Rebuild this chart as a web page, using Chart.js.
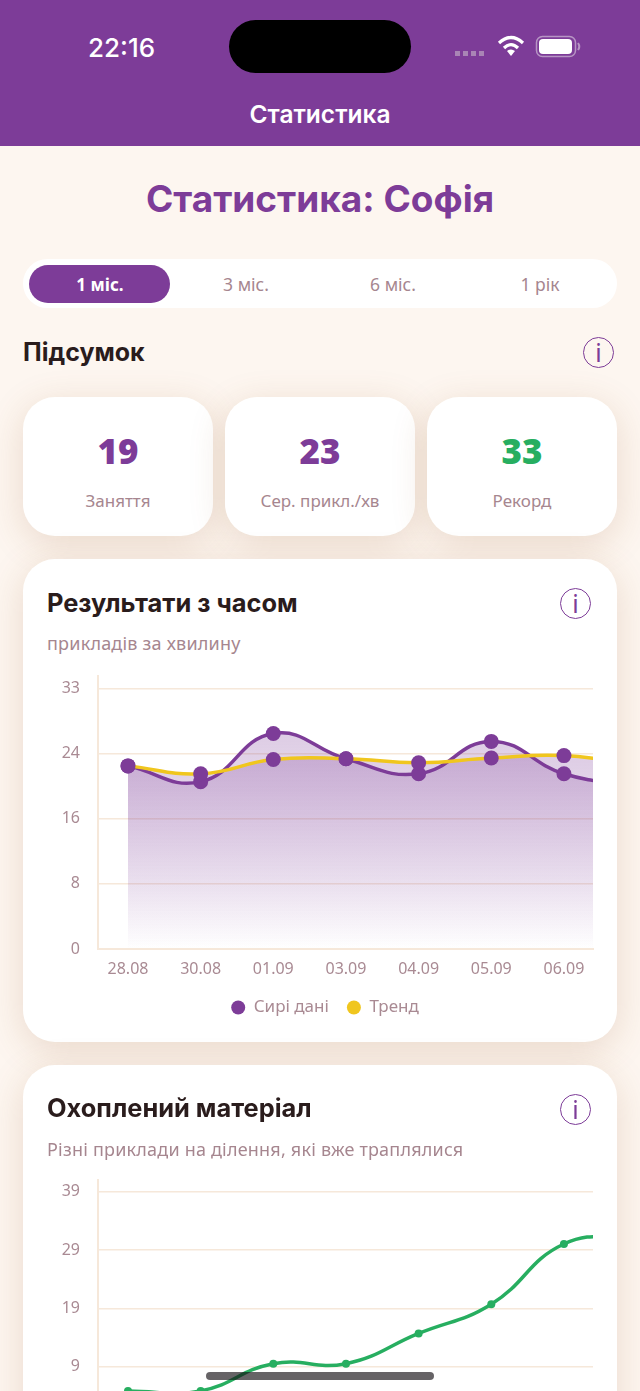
<!DOCTYPE html>
<html lang="uk">
<head>
<meta charset="utf-8">
<title>Статистика</title>
<script src="https://cdn.jsdelivr.net/npm/chart.js@4/dist/chart.umd.min.js"></script>
<style>
html, body { margin: 0; padding: 0; }
body { width: 640px; height: 1391px; overflow: hidden; position: relative; background: #fdf6f0; font-family: "Noto Sans", sans-serif; }
.abs { position: absolute; }
.head { font-family: Inter, Roboto, sans-serif; font-weight: 700; }
.muted { color: #a6868f; }
.c { text-align: center; transform: translate(-50%, -50%); white-space: nowrap; }
.v { transform: translateY(-50%); white-space: nowrap; }
.card { position: absolute; background: #fff; box-shadow: 0 8px 36px rgba(150, 90, 40, 0.18); }
.info { position: absolute; width: 29px; height: 29px; border: 1.5px solid #7d3c98; border-radius: 50%; color: #7d3c98; text-align: center; font: 400 25px/29px "Noto Sans", sans-serif; }
canvas { position: absolute; }
</style>
</head>
<body>
<div class="abs" style="left:0;top:0;width:640px;height:146px;background:#7d3c98"></div>
<div class="abs v" style="left:88px;top:47px;color:#fff;font:500 26px Inter,sans-serif">22:16</div>
<div class="abs" style="left:229px;top:20px;width:182px;height:53px;border-radius:27px;background:#000"></div>
<svg class="abs" style="left:450px;top:30px" width="140" height="32" viewBox="0 0 140 32">
  <g fill="#a985b5"><rect x="5" y="21" width="5" height="5"/><rect x="13" y="21" width="5" height="5"/><rect x="21" y="21" width="5" height="5"/><rect x="29" y="21" width="5" height="5"/></g>
  <g fill="none" stroke="#fff" stroke-width="3.2"><path d="M49 13 Q61 2 73 13"/><path d="M54 18 Q61 11 68 18"/></g>
  <path d="M57 21 Q61 18 65 21 L61 26 Z" fill="#fff"/>
  <rect x="86.5" y="6.5" width="39" height="20" rx="6" fill="none" stroke="#b795c4" stroke-width="1.5"/>
  <rect x="89" y="9" width="33" height="15" rx="4" fill="#fff"/>
  <path d="M128 13 q2.5 3.5 0 7" fill="none" stroke="#b795c4" stroke-width="2"/>
</svg>
<div class="abs c head" style="left:320px;top:114px;color:#fff;font-size:24.5px;font-weight:600">Статистика</div>
<div class="abs c head" style="left:320px;top:198px;color:#7d3c98;font-size:37px">Статистика: Софія</div>

<div class="abs" style="left:23px;top:259px;width:594px;height:49px;border-radius:25px;background:#fff"></div>
<div class="abs" style="left:29px;top:265px;width:141px;height:38px;border-radius:19px;background:#7d3c98"></div>
<div class="abs c" style="left:100px;top:284px;color:#fff;font-size:17px;font-weight:700">1 міс.</div>
<div class="abs c muted" style="left:246px;top:284px;font-size:17.5px">3 міс.</div>
<div class="abs c muted" style="left:393px;top:284px;font-size:17.5px">6 міс.</div>
<div class="abs c muted" style="left:540px;top:284px;font-size:17.5px">1 рік</div>

<div class="abs v head" style="left:23px;top:352px;color:#2a1c1c;font-size:25px">Підсумок</div>
<div class="info" style="left:583px;top:337px">i</div>

<div class="card" style="left:23px;top:397px;width:190px;height:139px;border-radius:32px"></div>
<div class="card" style="left:225px;top:397px;width:190px;height:139px;border-radius:32px"></div>
<div class="card" style="left:427px;top:397px;width:190px;height:139px;border-radius:32px"></div>
<div class="abs c" style="left:118px;top:450px;color:#7d3c98;font-size:35px;font-weight:900">19</div>
<div class="abs c" style="left:320px;top:450px;color:#7d3c98;font-size:35px;font-weight:900">23</div>
<div class="abs c" style="left:522px;top:450px;color:#27ae60;font-size:35px;font-weight:900">33</div>
<div class="abs c muted" style="left:118px;top:500px;font-size:17px">Заняття</div>
<div class="abs c muted" style="left:320px;top:500px;font-size:17px">Сер. прикл./хв</div>
<div class="abs c muted" style="left:522px;top:500px;font-size:17px">Рекорд</div>

<div class="card" style="left:23px;top:559px;width:594px;height:483px;border-radius:32px"></div>
<div class="abs v head" style="left:47px;top:602px;color:#2a1c1c;font-size:25.4px">Результати з часом</div>
<div class="info" style="left:560px;top:588px">i</div>
<div class="abs v muted" style="left:47px;top:643px;font-size:18px;letter-spacing:.2px">прикладів за хвилину</div>
<canvas id="resultsChart" style="left:40px;top:668px"></canvas>

<div class="card" style="left:23px;top:1065px;width:594px;height:483px;border-radius:32px"></div>
<div class="abs v head" style="left:47px;top:1107px;color:#2a1c1c;font-size:25.4px">Охоплений матеріал</div>
<div class="info" style="left:560px;top:1094px">i</div>
<div class="abs v muted" style="left:47px;top:1149px;font-size:18px;letter-spacing:.2px">Різні приклади на ділення, які вже траплялися</div>
<canvas id="coverageChart" style="left:40px;top:1170px"></canvas>

<div class="abs" style="left:206px;top:1372px;width:228px;height:8px;border-radius:4px;background:rgba(20,15,20,0.65)"></div>

<script>
// last value of each series sits past the right edge, the list scrolls in the app
var dateLabels = ["28.08", "30.08", "01.09", "03.09", "04.09", "05.09", "06.09"];
var rawValues = [23.2, 21.2, 27.3, 24.1, 22.2, 26.3, 22.2, 20.7];
var trendValues = [23.2, 22.2, 24.0, 24.1, 23.6, 24.2, 24.5, 23.3];
var coveredValues = [5.7, 5.7, 10.25, 10.25, 15.3, 20.2, 30.25, 31.5];
var resultTicks = [0, 8.25, 16.5, 24.75, 33];
var coveredTicks = [0, 9.75, 19.5, 29.25, 39];
var legendNames = ["Сирі дані", "Тренд"];

var PURPLE = "#7d3c98";
var YELLOW = "#f0c61e";
var GREEN = "#27ae60";
var GRID = "#f6e8da";
var TICK = "#a98a93";
var FONT = "'Noto Sans', sans-serif";
var CURVE = 0.45;

function toPoints(values) {
    return values.map(function (v, i) { return { x: i, y: v }; });
}

function fadeFill(values) {
    return function (ctx) {
        var chart = ctx.chart;
        if (!chart.chartArea) return "transparent";
        var top = chart.scales.y.getPixelForValue(Math.max.apply(null, values));
        var g = chart.ctx.createLinearGradient(0, top, 0, chart.chartArea.bottom);
        g.addColorStop(0, "rgba(125,60,152,0.26)");
        g.addColorStop(1, "rgba(125,60,152,0)");
        return g;
    };
}

function baseOptions(ticks, yMax, topPad) {
    return {
        responsive: false,
        animation: false,
        layout: { padding: { top: topPad, left: 17, right: 17 } },
        scales: {
            x: {
                type: "linear",
                min: -0.413,
                max: 6.4,
                afterBuildTicks: function (s) {
                    s.ticks = dateLabels.map(function (d, i) { return { value: i }; });
                },
                afterFit: function (s) {
                    s.height = 32;
                    s.paddingLeft = 0;
                    s.paddingRight = 0;
                },
                grid: { drawOnChartArea: false, drawTicks: false },
                border: { color: GRID, width: 2 },
                ticks: {
                    autoSkip: false,
                    maxRotation: 0,
                    padding: 11,
                    color: TICK,
                    font: { family: FONT, size: 16 },
                    callback: function (v) { return dateLabels[v]; }
                }
            },
            y: {
                min: 0,
                max: yMax,
                afterBuildTicks: function (s) {
                    s.ticks = ticks.map(function (t) { return { value: t }; });
                },
                afterFit: function (s) {
                    s.width = 41;
                    s.paddingTop = 0;
                    s.paddingBottom = 0;
                },
                grid: { color: GRID, lineWidth: 1.5, drawTicks: false },
                border: { color: GRID, width: 2 },
                ticks: {
                    padding: 18,
                    color: TICK,
                    font: { family: FONT, size: 16 },
                    callback: function (v) { return Math.floor(v); }
                }
            }
        },
        plugins: { legend: { display: false }, tooltip: { enabled: false } }
    };
}

var resultsCanvas = document.getElementById("resultsChart");
resultsCanvas.width = 570;
resultsCanvas.height = 358;
var resultsOptions = baseOptions(resultTicks, 34.65, 1);
resultsOptions.plugins.legend = {
    display: true,
    position: "bottom",
    labels: {
        usePointStyle: true,
        boxHeight: 10,
        pointStyleWidth: 14,
        padding: 18,
        color: TICK,
        font: { family: FONT, size: 17 },
        generateLabels: function () {
            return [
                { text: legendNames[0], fillStyle: PURPLE, strokeStyle: PURPLE, lineWidth: 0, pointStyle: "circle", fontColor: TICK },
                { text: legendNames[1], fillStyle: YELLOW, strokeStyle: YELLOW, lineWidth: 0, pointStyle: "circle", fontColor: TICK }
            ];
        }
    }
};

new Chart(resultsCanvas, {
    type: "line",
    data: {
        datasets: [
            {
                label: legendNames[0],
                data: toPoints(rawValues),
                order: 2,
                borderColor: PURPLE,
                borderWidth: 3.5,
                tension: CURVE,
                capBezierPoints: false,
                clip: 0,
                fill: "origin",
                backgroundColor: fadeFill(rawValues),
                pointRadius: 7.5,
                pointBackgroundColor: PURPLE,
                pointBorderWidth: 0
            },
            {
                label: legendNames[1],
                data: toPoints(trendValues),
                order: 1,
                borderColor: YELLOW,
                borderWidth: 3.5,
                tension: CURVE,
                capBezierPoints: false,
                clip: 0,
                fill: "origin",
                backgroundColor: fadeFill(trendValues),
                pointRadius: 7.5,
                pointBackgroundColor: PURPLE,
                pointBorderWidth: 0
            }
        ]
    },
    options: resultsOptions
});

var coverageCanvas = document.getElementById("coverageChart");
coverageCanvas.width = 570;
coverageCanvas.height = 287;

new Chart(coverageCanvas, {
    type: "line",
    data: {
        datasets: [{
            data: toPoints(coveredValues),
            borderColor: GREEN,
            borderWidth: 3.5,
            tension: CURVE,
            capBezierPoints: false,
            clip: 0,
            fill: false,
            pointRadius: 4,
            pointBackgroundColor: GREEN,
            pointBorderWidth: 0
        }]
    },
    options: baseOptions(coveredTicks, 40.95, 10)
});
</script>
</body>
</html>
